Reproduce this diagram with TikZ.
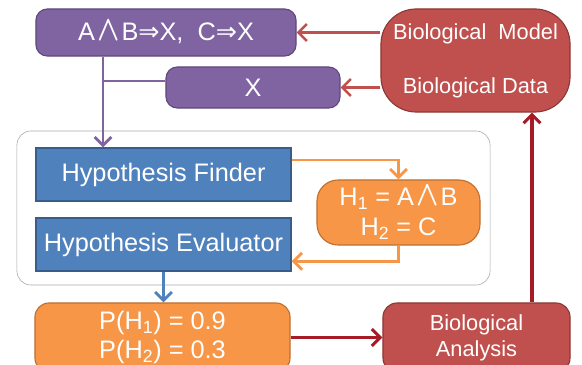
\documentclass[tikz,border=0pt]{standalone}
\usepackage{fontspec}
\setmainfont{Liberation Sans}
\newfontfamily\hpSym{DejaVu Sans}
\usepackage{xcolor}
\usepackage{graphicx}
\usetikzlibrary{arrows.meta,positioning,calc}
\definecolor{hpPurple}{RGB}{128,100,162}
\definecolor{hpDarkPurple}{RGB}{94,73,122}
\definecolor{hpRed}{RGB}{192,80,77}
\definecolor{hpDarkRed}{RGB}{140,56,54}
\definecolor{hpDeepRed}{RGB}{165,27,38}
\definecolor{hpBlue}{RGB}{79,129,189}
\definecolor{hpDarkBlue}{RGB}{56,93,138}
\definecolor{hpOrange}{RGB}{247,150,70}
\definecolor{hpDarkOrange}{RGB}{190,112,50}
\newcommand{\hpAnd}{\kern1.5pt\scalebox{1.2}[1.45]{\boldmath$\wedge$}\kern1.5pt}
\newcommand{\hpImp}{{\hpSym\char"21D2}}

\begin{document}
\begin{tikzpicture}[x=0.025cm, y=-0.025cm, >={Straight Barb[length=6pt,width=12pt]}, font=\fontsize{18}{21}\selectfont]
\tikzstyle{purplebox}=[draw=hpDarkPurple, thick, fill=hpPurple, rounded corners=8pt, text=white, inner sep=0pt]
\tikzstyle{bluebox}=[draw=hpDarkBlue, thick, fill=hpBlue, text=white, inner sep=0pt, minimum width=6.375cm, minimum height=1.325cm]
\tikzstyle{orangebox}=[draw=hpDarkOrange, thick, fill=hpOrange, text=white, align=center, inner sep=0pt]
\tikzstyle{redbox}=[draw=hpDarkRed, thick, fill=hpRed, text=white, align=center, inner sep=0pt, font=\fontsize{15.5}{18.5}\selectfont]
\tikzstyle{redline}=[->, draw=hpRed, line width=1.8pt]
\tikzstyle{deepline}=[->, draw=hpDeepRed, line width=2.2pt]
\useasboundingbox (0,0) rectangle (582,365);

% group frame
\node[draw=black!35, rounded corners=10pt, minimum width=11.825cm, minimum height=3.85cm] (frame) at (253.5,208) {};

% top row
\node[purplebox, minimum width=6.5cm, minimum height=1.175cm] (rules) at (166,32.5) {A\hpAnd B\hpImp X,\ \ C\hpImp X};
\node[purplebox, minimum width=4.35cm, minimum height=1.025cm] (xbox) at (253,87.5) {X};
\node[redbox, rounded corners=25pt, minimum width=4.725cm, minimum height=2.575cm] (bio) at (475.5,60.5) {Biological\ \ Model\\[20pt]Biological Data};

% hypothesis engine
\node[bluebox] (finder) at (163.5,174.5) {Hypothesis Finder};
\node[bluebox] (evaluator) at (163.5,244.5) {Hypothesis Evaluator};
\node[orangebox, rounded corners=15pt, minimum width=4.075cm, minimum height=1.625cm] (hyp) at (398.5,212.5) {H\textsubscript{1} = A\hpAnd B\\H\textsubscript{2} = C};

% bottom row
\node[orangebox, rounded corners=10pt, minimum width=6.375cm, minimum height=1.725cm] (prob) at (162.5,337.5) {P(H\textsubscript{1}) = 0.9\\P(H\textsubscript{2}) = 0.3};
\node[redbox, rounded corners=10pt, minimum width=4.675cm, minimum height=1.725cm] (analysis) at (476.5,337.5) {Biological\\Analysis};

\coordinate (trunk) at (103,0);
\coordinate (riser) at (532,0);

% connectors
\draw[redline] (rules.east -| bio.west) -- (rules.east);
\draw[redline] (xbox.east -| bio.west) -- (xbox.east);
\draw[->, draw=hpPurple, line width=2pt] (rules.south -| trunk) -- (finder.north -| trunk);
\draw[draw=hpPurple, line width=2pt] ([yshift=0.16cm]xbox.west) -- ([yshift=0.16cm]xbox.west -| trunk);
\draw[->, draw=hpOrange, line width=2pt] ([yshift=0.36cm]finder.east) -| (hyp.north);
\draw[->, draw=hpOrange, line width=2pt] (hyp.south) |- ([yshift=-0.42cm]evaluator.east);
\draw[->, draw=hpBlue, line width=2pt] (evaluator.south) -- (evaluator.south |- prob.north);
\draw[deepline] (prob.east) -- (analysis.west);
\draw[deepline] (analysis.north -| riser) -- (bio.south -| riser);
\end{tikzpicture}
\end{document}
